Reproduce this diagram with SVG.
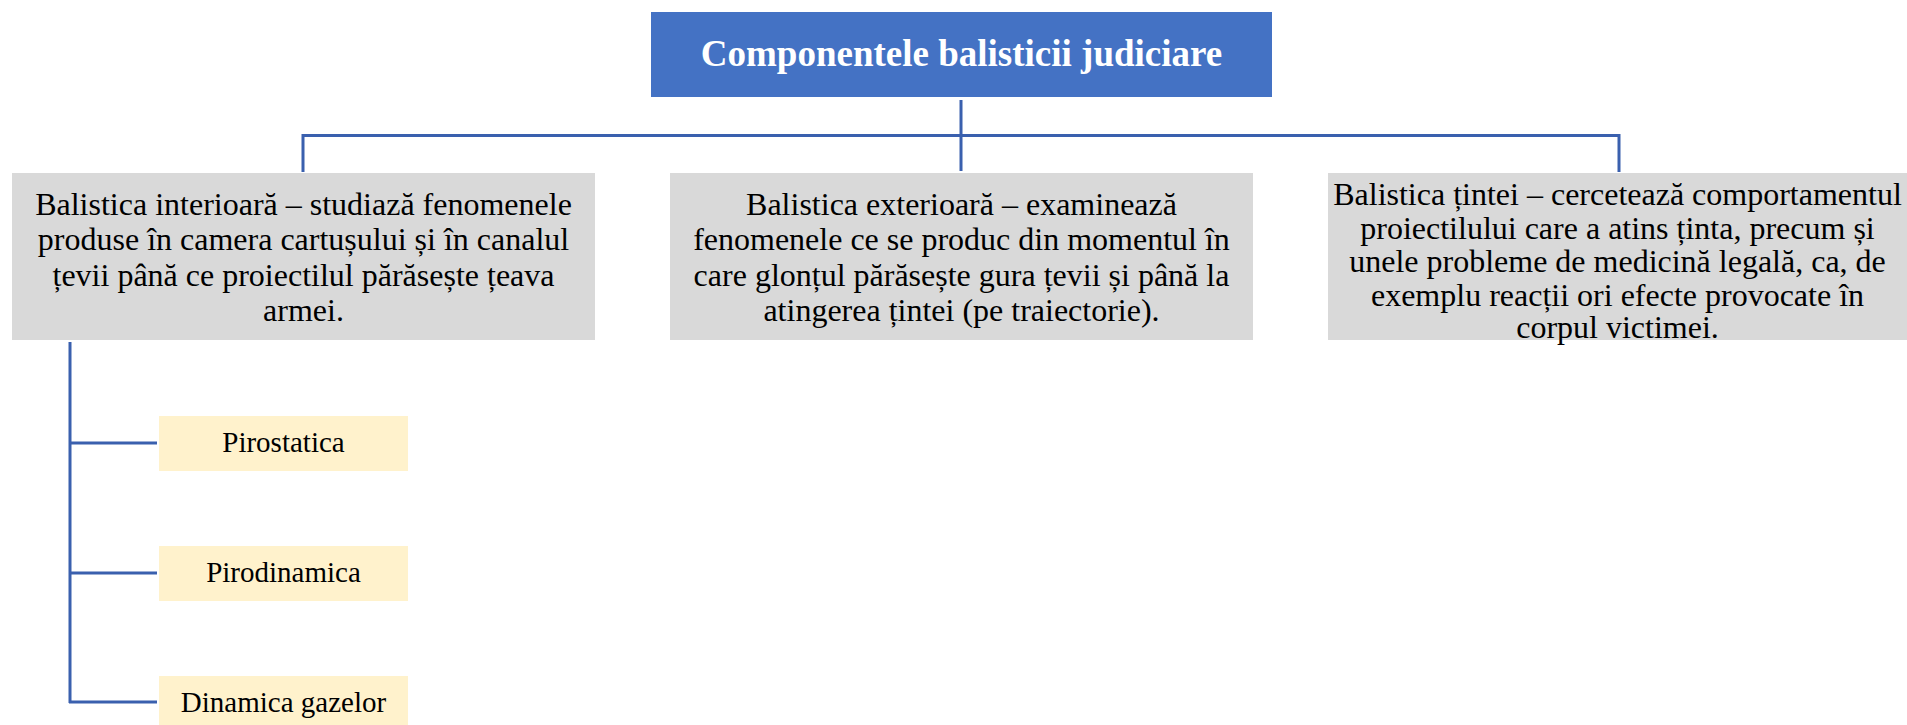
<svg xmlns="http://www.w3.org/2000/svg" width="1907" height="725" viewBox="0 0 1907 725">
<style>
.t{font-family:"Liberation Serif","Times New Roman",serif;fill:#000;text-anchor:middle}
.g{fill:#D9D9D9}
.y{fill:#FFF2CC}
.c{stroke:#3A60AE;stroke-width:3;fill:none}
</style>
<rect width="1907" height="725" fill="#fff"/>
<g id="connectors">
<path class="c" d="M961 100V171M303 135.5H1619M303 134V172M1619 134V172"/>
<path class="c" d="M70 342V703M69 443H157M69 573H157M69 702H157"/>
</g>
<g id="root">
<rect x="651" y="12" width="621" height="85" fill="#4472C4"/>
<text class="t" x="961.5" y="66" font-size="37" font-weight="bold" style="fill:#fff">Componentele balisticii judiciare</text>
</g>
<g id="interior">
<rect class="g" x="12" y="173" width="583" height="167"/>
<text class="t" font-size="32"><tspan x="303.5" y="214.5">Balistica interioară – studiază fenomenele</tspan><tspan x="303.5" y="250">produse în camera cartușului și în canalul</tspan><tspan x="303.5" y="285.5">țevii până ce proiectilul părăsește țeava</tspan><tspan x="303.5" y="321">armei.</tspan></text>
</g>
<g id="exterior">
<rect class="g" x="670" y="173" width="583" height="167"/>
<text class="t" font-size="32"><tspan x="961.5" y="214.5">Balistica exterioară – examinează</tspan><tspan x="961.5" y="250">fenomenele ce se produc din momentul în</tspan><tspan x="961.5" y="285.5">care glonțul părăsește gura țevii și până la</tspan><tspan x="961.5" y="321">atingerea țintei (pe traiectorie).</tspan></text>
</g>
<g id="tinta">
<rect class="g" x="1328" y="173" width="579" height="167"/>
<text class="t" font-size="32"><tspan x="1617.5" y="205">Balistica țintei – cercetează comportamentul</tspan><tspan x="1617.5" y="238.5">proiectilului care a atins ținta, precum și</tspan><tspan x="1617.5" y="272">unele probleme de medicină legală, ca, de</tspan><tspan x="1617.5" y="305.5">exemplu reacții ori efecte provocate în</tspan><tspan x="1617.5" y="338">corpul victimei.</tspan></text>
</g>
<g id="pirostatica">
<rect class="y" x="159" y="416" width="249" height="55"/>
<text class="t" x="283.5" y="452" font-size="29">Pirostatica</text>
</g>
<g id="pirodinamica">
<rect class="y" x="159" y="546" width="249" height="55"/>
<text class="t" x="283.5" y="582" font-size="29">Pirodinamica</text>
</g>
<g id="dinamica">
<rect class="y" x="159" y="676" width="249" height="55"/>
<text class="t" x="283.5" y="712" font-size="29">Dinamica gazelor</text>
</g>
</svg>
